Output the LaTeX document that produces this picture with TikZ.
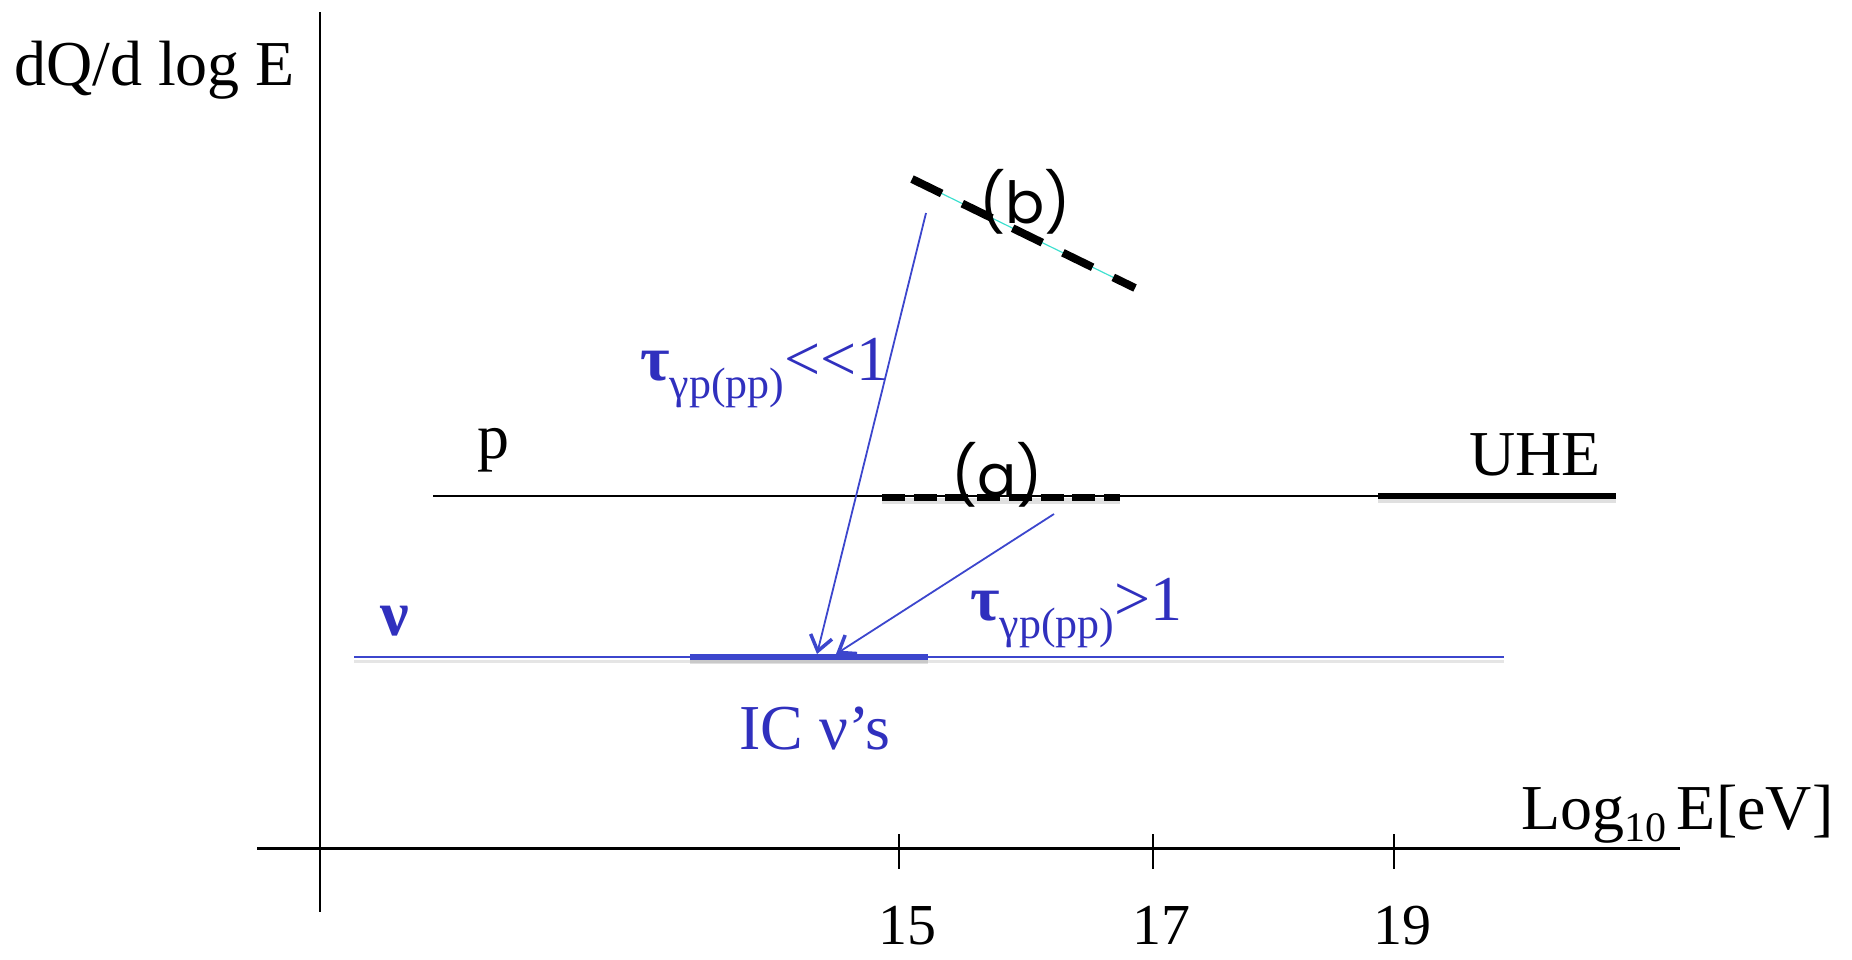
\documentclass[tikz,border=0pt]{standalone}
\usepackage{fontspec}
\setmainfont{Liberation Serif}
\newfontfamily\comicf{Poppins}
\usetikzlibrary{arrows.meta}
\definecolor{blueL}{RGB}{60,70,205}
\definecolor{blueT}{RGB}{48,48,190}
\definecolor{cyanL}{RGB}{64,224,208}
\newcommand\taulab[1]{\textbf{τ}\raisebox{-18pt}{\fontsize{44}{48}\selectfont γp(pp)}#1}
\begin{document}
\begin{tikzpicture}[x=1pt,y=-1pt,
  lbl/.style={font=\fontsize{64}{70}\selectfont, inner sep=0pt, anchor=base west},
  blbl/.style={lbl, text=blueT},
  hand/.style={font=\comicf\fontsize{58}{64}\selectfont, inner sep=0pt, anchor=center},
  ticklbl/.style={font=\fontsize{58}{64}\selectfont, inner sep=0pt, anchor=base, text depth=0pt},
  tickline/.style={line width=1.5pt, black},
  shadowthick/.style={preaction={draw=black, opacity=0.12, line width=6pt, transform canvas={yshift=-4pt}}},
  shadowthin/.style={preaction={draw=black, opacity=0.10, line width=3pt, transform canvas={yshift=-4pt}}},
  thickblack/.style={line width=6pt, black, shadowthick},
  dashblack/.style={line width=7pt, black, dash pattern=on 23pt off 8.7pt, shadowthick},
  dashb/.style={line width=8pt, black, dash pattern=on 33pt off 23pt},
  blueline/.style={line width=2.5pt, blueL, shadowthin},
  bluethick/.style={line width=6pt, blueL, shadowthick},
  bluearrow/.style={line width=1.8pt, blueL, -{Straight Barb[length=15pt, width=22pt, line width=3.5pt]}}
]
\useasboundingbox (0,0) rectangle (1852,959);

% axes
\coordinate (yt) at (320,12);
\coordinate (yb) at (320,912);
\coordinate (xl) at (257,848);
\coordinate (xr) at (1680,848);
\draw[line width=1.5pt] (yt) -- (yb);
\draw[line width=3pt] (xl) -- (xr);
\foreach \x/\n in {899/t15,1153/t17,1394/t19}{
  \coordinate (\n a) at (\x,834);
  \coordinate (\n b) at (\x,869);
  \draw[tickline] (\n a) -- (\n b);
}
\node[ticklbl] (l15) at (907,944) {15};
\node[ticklbl] (l17) at (1161,944) {17};
\node[ticklbl] (l19) at (1402,944) {19};

\node[lbl] (ylab) at (14,85) {dQ/d log E};
\node[lbl] (xlab) at (1521,829) {Log\raisebox{-12pt}{\fontsize{42}{46}\selectfont 10}\,E[eV]};

% proton line
\coordinate (p0) at (433,496);
\coordinate (p1) at (1378,496);
\coordinate (p2) at (1616,496);
\draw[line width=1.5pt] (p0) -- (p1);
\draw[thickblack] (p1) -- (p2);
\node[lbl] (plab) at (477,458) {p};
\node[lbl] (uhe) at (1469,475) {UHE};

% (a)
\coordinate (a0) at (882,497);
\coordinate (a1) at (1120,497);
\draw[dashblack] (a0) -- (a1);
\node[hand] (alab) at (997,475) {(a)};

% (b)
\coordinate (b0) at (912,179);
\coordinate (b1) at (1135,288);
\draw[cyanL, line width=1.2pt] (b0) -- (b1);
\draw[dashb] (b0) -- (b1);
\node[hand] (blab) at (1025,202) {(b)};

% neutrino line
\coordinate (n0) at (354,657);
\coordinate (n1) at (1504,657);
\coordinate (ic0) at (690,657);
\coordinate (ic1) at (928,657);
\draw[blueline] (n0) -- (n1);
\draw[bluethick] (ic0) -- (ic1);
\node[blbl] (nulab) at (380,635) {\textbf{ν}};
\node[blbl] (iclab) at (739,749) {IC ν’s};

% arrows
\coordinate (s1) at (926,213);
\coordinate (t1) at (817,654);
\coordinate (s2) at (1054,514);
\coordinate (t2) at (836,654);
\draw[bluearrow] (s1) -- (t1);
\draw[bluearrow] (s2) -- (t2);

\node[blbl] (taub) at (640,380) {\taulab{<\kern0pt<1}};
\node[blbl] (taua) at (970,620) {\taulab{>1}};
\end{tikzpicture}
\end{document}
